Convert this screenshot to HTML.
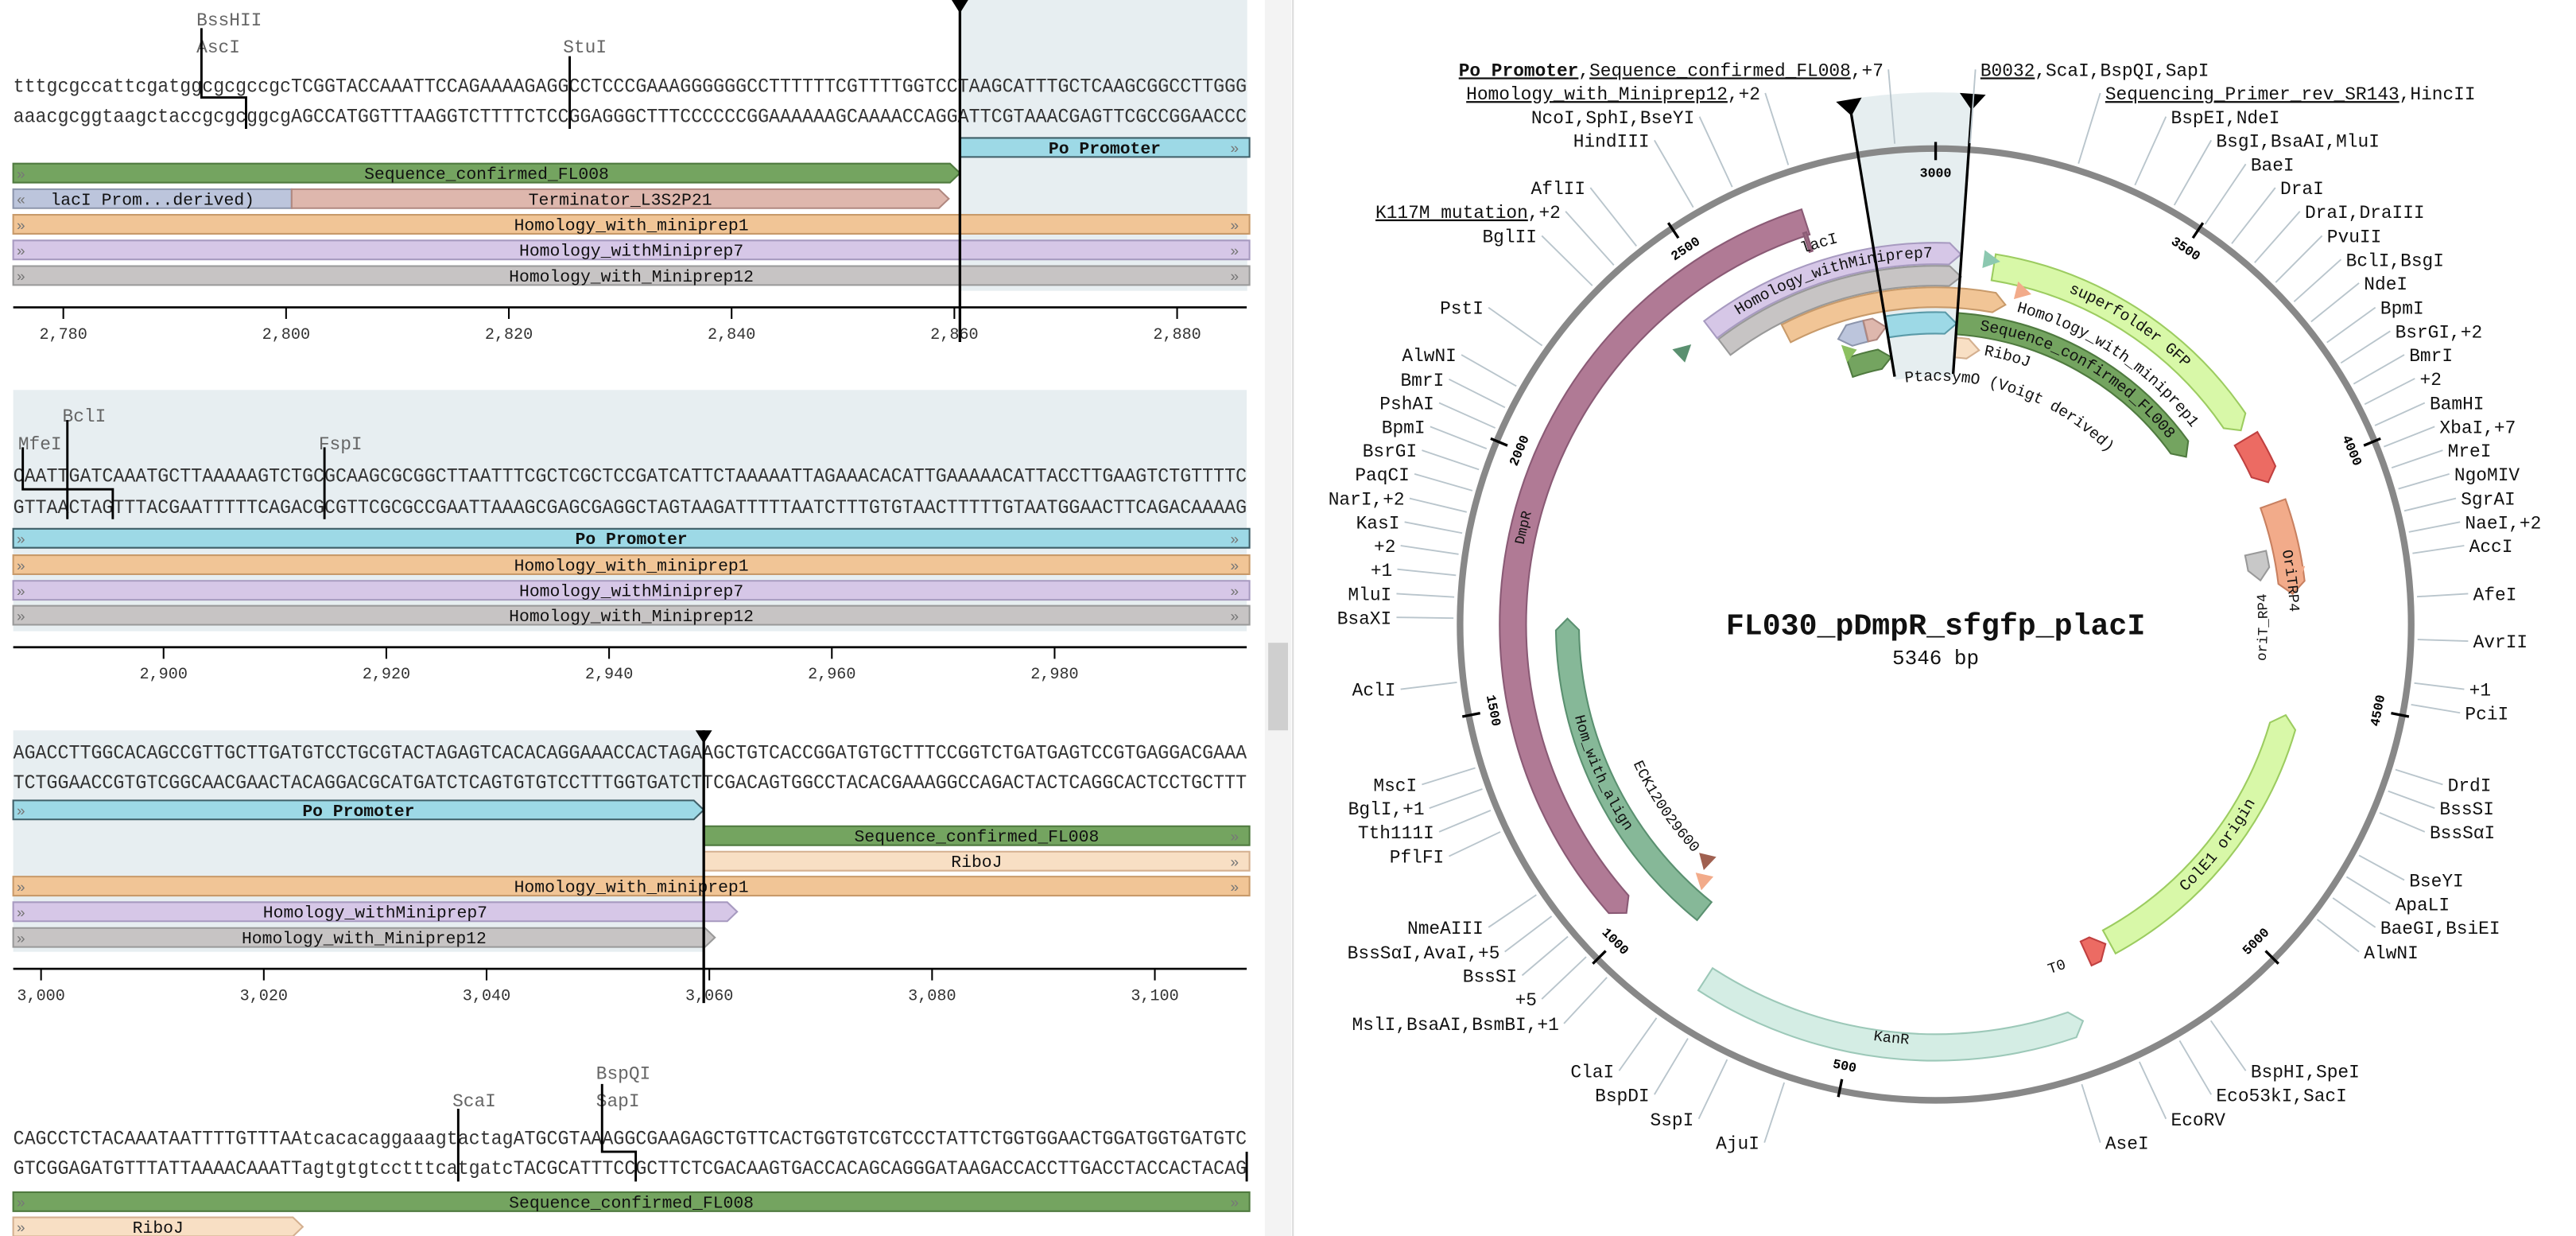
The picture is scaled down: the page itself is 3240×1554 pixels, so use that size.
<!DOCTYPE html>
<html><head><meta charset="utf-8"><style>
html,body{margin:0;padding:0;background:#fff;}
svg{display:block;}
text{font-family:"Liberation Mono","DejaVu Sans Mono",monospace;}
</style></head><body>
<svg id="root" xmlns="http://www.w3.org/2000/svg" width="3240" height="1554" viewBox="0 0 1560 748" preserveAspectRatio="none">
<rect x="0" y="0" width="1560" height="748" fill="#fff"/>
<g id="linear">
  <rect x="581.3" y="0" width="174" height="176" fill="#e7eef1"/>
  <rect x="8" y="236" width="747" height="146" fill="#e7eef1"/>
  <rect x="8" y="442" width="418" height="134" fill="#e7eef1"/>
  <g fill="#333" font-size="12">
    <text x="8" y="55.5" textLength="747" lengthAdjust="spacingAndGlyphs">tttgcgccattcgatggcgcgccgcTCGGTACCAAATTCCAGAAAAGAGGCCTCCCGAAAGGGGGGCCTTTTTTCGTTTTGGTCCTAAGCATTTGCTCAAGCGGCCTTGGG</text>
    <text x="8" y="74" textLength="747" lengthAdjust="spacingAndGlyphs">aaacgcggtaagctaccgcgcggcgAGCCATGGTTTAAGGTCTTTTCTCCGGAGGGCTTTCCCCCCGGAAAAAAGCAAAACCAGGATTCGTAAACGAGTTCGCCGGAACCC</text>
    <text x="8" y="291.5" textLength="747" lengthAdjust="spacingAndGlyphs">CAATTGATCAAATGCTTAAAAAGTCTGCGCAAGCGCGGCTTAATTTCGCTCGCTCCGATCATTCTAAAAATTAGAAACACATTGAAAAACATTACCTTGAAGTCTGTTTTC</text>
    <text x="8" y="310.5" textLength="747" lengthAdjust="spacingAndGlyphs">GTTAACTAGTTTACGAATTTTTCAGACGCGTTCGCGCCGAATTAAAGCGAGCGAGGCTAGTAAGATTTTTAATCTTTGTGTAACTTTTTGTAATGGAACTTCAGACAAAAG</text>
    <text x="8" y="459" textLength="747" lengthAdjust="spacingAndGlyphs">AGACCTTGGCACAGCCGTTGCTTGATGTCCTGCGTACTAGAGTCACACAGGAAACCACTAGAAGCTGTCACCGGATGTGCTTTCCGGTCTGATGAGTCCGTGAGGACGAAA</text>
    <text x="8" y="477" textLength="747" lengthAdjust="spacingAndGlyphs">TCTGGAACCGTGTCGGCAACGAACTACAGGACGCATGATCTCAGTGTGTCCTTTGGTGATCTTCGACAGTGGCCTACACGAAAGGCCAGACTACTCAGGCACTCCTGCTTT</text>
    <text x="8" y="692.5" textLength="747" lengthAdjust="spacingAndGlyphs">CAGCCTCTACAAATAATTTTGTTTAAtcacacaggaaagtactagATGCGTAAAGGCGAAGAGCTGTTCACTGGTGTCGTCCCTATTCTGGTGGAACTGGATGGTGATGTC</text>
    <text x="8" y="710.5" textLength="747" lengthAdjust="spacingAndGlyphs">GTCGGAGATGTTTATTAAAACAAATTagtgtgtcctttcatgatcTACGCATTTCCGCTTCTCGACAAGTGACCACAGCAGGGATAAGACCACCTTGACCTACCACTACAG</text>
  </g>
  <g fill="#666" font-size="11">
    <text x="119" y="15.5">BssHII</text>
    <text x="119" y="31.8">AscI</text>
    <text x="341" y="31.8">StuI</text>
    <text x="37.8" y="255">BclI</text>
    <text x="11" y="272">MfeI</text>
    <text x="193" y="272">FspI</text>
    <text x="274" y="669.5">ScaI</text>
    <text x="361" y="653">BspQI</text>
    <text x="361" y="669.5">SapI</text>
  </g>
  <g fill="none" stroke="#000" stroke-width="1.4">
    <polyline points="122,17 122,59 149,59 149,78"/>
    <polyline points="345,34 345,78"/>
    <polyline points="13.8,270.7 13.8,296.1 68.3,296.1 68.3,314.2"/>
    <polyline points="40.8,254.2 40.8,314.2"/>
    <polyline points="196.5,270.7 196.5,314.2"/>
    <polyline points="277.5,671 277.5,715"/>
    <polyline points="364.6,656 364.6,697 385,697 385,715"/>
    <polyline points="755,697 755,715"/>
  </g>
  <g id="linfeat"></g>
  <g id="linaxes"></g>
</g>
<rect x="766" y="0" width="16" height="748" fill="#f3f3f3"/>
<rect x="768" y="389" width="12" height="53" fill="#cfcfcf"/>
<line x1="783" y1="0" x2="783" y2="748" stroke="#dcdcdc" stroke-width="1"/>
<g id="circ"></g>
</svg>
<script>
// ---------- linear view data ----------
const rowStarts = [2775.5, 2886.5, 2997.5, 3108.5];
const rowTicks = [[2780,2800,2820,2840,2860,2880],[2900,2920,2940,2960,2980],[3000,3020,3040,3060,3080,3100],[]];
const linNames = ['Po Promoter','Sequence_confirmed_FL008','Sequence_confirmed_FL008','lacI Prom...derived)','Terminator_L3S2P21','Homology_with_miniprep1','Homology_withMiniprep7','Homology_with_Miniprep12','RiboJ'];
const linStart = [2861, 2600, 3060, 2600, 2801, 2600, 2600, 2600, 3060];
const linEnd   = [3059, 2860, 3400, 2800, 2859, 3400, 3062, 3060, 3134];
const linDir   = [1, 1, 1, -1, 1, 1, 1, 1, 1];
const selStarts = [2860.5, 3059.5];
// layout (lane y per row, -1 = hidden)
const laneY = [
  [83.5, 99, -1, 114.5, 114.5, 130, 145.5, 161, -1],
  [320, -1, -1, -1, -1, 336, 351.5, 366.6, -1],
  [484.4, -1, 500, -1, -1, 530.5, 546, 561.6, 515.4],
  [-1, -1, 721.5, -1, -1, -1, -1, -1, 736.7]
];
const axisY = [186, 391.7, 586.3, -1];
const fillOf = {'Po Promoter':'#9dd9e6','Sequence_confirmed_FL008':'#74a460','lacI Prom...derived)':'#bcc5dc','Terminator_L3S2P21':'#deb7ad','Homology_with_miniprep1':'#f1c596','Homology_withMiniprep7':'#d6c7e7','Homology_with_Miniprep12':'#c7c4c4','RiboJ':'#f8dfc4'};
const strokeOf = {'Po Promoter':'#3f5f68','Sequence_confirmed_FL008':'#4f7a3f','lacI Prom...derived)':'#8c95ac','Terminator_L3S2P21':'#b08880','Homology_with_miniprep1':'#c89a6a','Homology_withMiniprep7':'#a79ac0','Homology_with_Miniprep12':'#999','RiboJ':'#d4b090'};

const NS='http://www.w3.org/2000/svg';
function mk(parent, tag, attrs){const e=document.createElementNS(NS,tag);for(const k in attrs)e.setAttribute(k,attrs[k]);parent.appendChild(e);return e;}
const BPW=6.745;
function bpX(r,p){return 8+(p-rowStarts[r])*BPW;}
const LF=document.getElementById('linfeat');
const LA=document.getElementById('linaxes');
const BH=11.5;
for(let r=0;r<4;r++){
  const rs=rowStarts[r], re=rs+111;
  for(let i=0;i<linNames.length;i++){
    const y=laneY[r][i]; if(y<0) continue;
    const s0=linStart[i]-0.5, e0=linEnd[i]+0.5;
    if(e0<=rs||s0>=re) continue;
    const s=Math.max(s0,rs), e=Math.min(e0,re);
    const x1=bpX(r,s), x2=bpX(r,e), ym=y+BH/2;
    const tipE = linDir[i]>0 && e0<=re, tipS = linDir[i]<0 && s0>=rs;
    let d;
    if(tipE){d=`M${x1},${y}L${x2-6},${y}L${x2},${ym}L${x2-6},${y+BH}L${x1},${y+BH}Z`;}
    else if(tipS){d=`M${x1+6},${y}L${x2},${y}L${x2},${y+BH}L${x1+6},${y+BH}L${x1},${ym}Z`;}
    else d=`M${x1},${y}L${x2},${y}L${x2},${y+BH}L${x1},${y+BH}Z`;
    const p=mk(LF,'path',{d:d,fill:fillOf[linNames[i]],stroke:strokeOf[linNames[i]],'stroke-width':1});
    
    
    const ch = linDir[i]>0?'»':'«';
    if(s0<rs){const c=mk(LF,'text',{x:10,y:ym+3.5,'font-size':9,fill:'#777'});c.textContent=ch;
      
      }
    if(e0>re){const c=mk(LF,'text',{x:745,y:ym+3.5,'font-size':9,fill:'#777'});c.textContent=ch;
      
      }
    const t=mk(LF,'text',{x:(x1+x2)/2,y:ym+3.6,'font-size':10.3,'text-anchor':'middle',fill:'#111'});
    if(linNames[i]==='Po Promoter') t.setAttribute('font-weight','bold');
    t.textContent=linNames[i];
    
    
  }
  if(axisY[r]>0){
    const ay=axisY[r];
    const al=mk(LA,'line',{x1:8,y1:ay,x2:755,y2:ay,stroke:'#000','stroke-width':1.3});
    
    
    rowTicks[r].forEach(v=>{
      const x=bpX(r,v);
      const tl=mk(LA,'line',{x1:x,y1:ay,x2:x,y2:ay+7,stroke:'#000','stroke-width':1});
      
      
      const tt=mk(LA,'text',{x:x,y:ay+19,'font-size':9.7,'text-anchor':'middle',fill:'#333'});
      tt.textContent=v.toLocaleString('en-US');
      
      
    });
  }
}
// selection markers
[[0,0,207],[2,442,607]].forEach((m,k)=>{
  const r=m[0], x=bpX(r,selStarts[k]);
  const ln=mk(LA,'line',{x1:x,y1:m[1],x2:x,y2:m[2],stroke:'#000','stroke-width':1.6});
  
  
  const tr=mk(LA,'path',{d:`M${x-5},${m[1]}L${x+5},${m[1]}L${x},${m[1]+8}Z`,fill:'#000'});
  
  
});

// ---------- circular map data ----------
const TOTAL=5346, ORIGIN=3000;
const tickVals=[500,1000,1500,2000,2500,3000,3500,4000,4500,5000];
const cNames = ['DmpR','lacI','Hom_with_align','KanR','T0','ColE1 origin','OriTRP4','oriT_RP4','T1','superfolder GFP','Homology_withMiniprep7','Homology_with_Miniprep12','Homology_with_miniprep1','Po Promoter','Sequence_confirmed_FL008','lacI Prom','Terminator_L3S2P21','Sequence_confirmed_FL008 part','RiboJ'];
const cStart = [1025,2722,905,24,5257,4552,4044,4150,3878,3137,2445,2446,2596,2861,3060,2720,2801,2725,3060];
const cEnd   = [2734,2729,1677,817,5308,5247,4264,4222,3993,3855,3058,3062,3183,3059,3835,2800,2859,2860,3134];
const cDir   = [-1,0,1,-1,-1,-1,1,1,1,1,1,1,1,1,1,-1,1,1,1];
// lane radii (layout)
const cR1 = [248,238,216,248,211,211,209,192,211,211,218,205,192,176,176,176,176,158,162];
const cR2 = [264,250,230,264,227,227,225,205,227,227,231,217,204,189,189,189,189,170,174];
const cFill = ['#b07a95','#9a6a80','#86b898','#d4ede4','#ec6b63','#d8f8a8','#f2ab8a','#c8c8c8','#ec6b63','#d8f8a8','#d6c7e7','#c7c4c4','#f1c596','#9dd9e6','#74a460','#bcc5dc','#deb7ad','#74a460','#f8dfc4'];
const cStroke= ['#8a5a75','#8a5a75','#5a9070','#9cc8b8','#c04040','#9ccc60','#c88060','#999','#c04040','#9ccc60','#a79ac0','#999','#c89a6a','#5a9aa8','#4f7a3f','#8c95ac','#b08880','#4f7a3f','#d4b090'];
const tinyPos = [3130,3220,4222,961,2369,2742,990];
const tinyR   = [223,208,221,209,225,173,199];
const tinyCol = ['#8cc8b0','#f2ab8a','#f2ab8a','#f2ab8a','#5a9070','#8cc060','#a06050'];

const cx=1172.2, cy=377.9, R=288;
const C=document.getElementById('circ');
function ang(p){return (p-ORIGIN)/TOTAL*360;}
function pt(r,a){const t=a*Math.PI/180;return [(cx+r*Math.sin(t)).toFixed(2),(cy-r*Math.cos(t)).toFixed(2)];}
function P(r,a){return pt(r,a).join(',');}
{
  const a1=ang(selStarts[0]), a2=ang(selStarts[1]);
  const w=mk(C,'path',{d:`M${P(150,a1)}L${P(322,a1)}A322,322 0 0 1 ${P(322,a2)}L${P(150,a2)}A150,150 0 0 0 ${P(150,a1)}Z`,fill:'#e6eef0'});
  
  
}
const ring=mk(C,'circle',{cx:cx,cy:cy,r:R,fill:'none',stroke:'#888','stroke-width':4});


tickVals.forEach(v=>{
  const a=ang(v);
  const l=mk(C,'line',{x1:pt(281,a)[0],y1:pt(281,a)[1],x2:pt(292,a)[0],y2:pt(292,a)[1],stroke:'#000','stroke-width':1.6});
  
  
  const q=pt(273,a); let rot=a; if(Math.abs(a)>90) rot=a>0?a-180:a+180;
  const t=mk(C,'text',{x:q[0],y:q[1],'font-size':8,'font-weight':'bold','text-anchor':'middle','dominant-baseline':'central',transform:`rotate(${rot.toFixed(1)} ${q[0]} ${q[1]})`});
  t.textContent=String(v);
  
  
});
function band(p1,p2,r1,r2,dir){
  let a1=ang(p1), a2=ang(p2); if(a2<a1)a2+=360;
  const rm=(r1+r2)/2; let tip=7/rm*180/Math.PI; tip=Math.min(tip,(a2-a1)*0.6);
  const L=(x)=>x>180?1:0;
  if(dir>0){const b=a2-tip;return `M${P(r2,a1)}A${r2},${r2} 0 ${L(b-a1)} 1 ${P(r2,b)}L${P(rm,a2)}L${P(r1,b)}A${r1},${r1} 0 ${L(b-a1)} 0 ${P(r1,a1)}Z`;}
  if(dir<0){const b=a1+tip;return `M${P(rm,a1)}L${P(r2,b)}A${r2},${r2} 0 ${L(a2-b)} 1 ${P(r2,a2)}L${P(r1,a2)}A${r1},${r1} 0 ${L(a2-b)} 0 ${P(r1,b)}Z`;}
  return `M${P(r2,a1)}A${r2},${r2} 0 ${L(a2-a1)} 1 ${P(r2,a2)}L${P(r1,a2)}A${r1},${r1} 0 ${L(a2-a1)} 0 ${P(r1,a1)}Z`;
}
for(let i=0;i<cNames.length;i++){
  const f=mk(C,'path',{d:band(cStart[i],cEnd[i],cR1[i],cR2[i],cDir[i]),fill:cFill[i],stroke:cStroke[i],'stroke-width':1});
  
  
}
for(let i=0;i<tinyPos.length;i++){
  const a=ang(tinyPos[i]), r=tinyR[i];
  const tr=mk(C,'path',{d:`M${P(r-5,a-1.2)}L${P(r+5,a-1.2)}L${P(r,a+1.2)}Z`,fill:tinyCol[i],stroke:tinyCol[i],'stroke-width':0.6});
  
  
}
selStarts.forEach(p=>{
  const a=ang(p);
  const l=mk(C,'line',{x1:pt(152,a)[0],y1:pt(152,a)[1],x2:pt(318,a)[0],y2:pt(318,a)[1],stroke:'#000','stroke-width':1.6});
  
  
  const t=mk(C,'path',{d:`M${P(322,a-1.4)}L${P(322,a+1.4)}L${P(312,a)}Z`,fill:'#000'});
  
  
});
const arcLabText=['DmpR','KanR','Hom_with_align','ECK120029600','superfolder GFP','Homology_with_miniprep1','Sequence_confirmed_FL008','RiboJ','PtacsymO (Voigt derived)','lacI','Homology_withMiniprep7','OriTRP4','oriT_RP4','ColE1 origin','T0'];
const arcLabAng=[-76.8,-173.9,-114,-124,33,33.5,30,15,19,-17,-16.5,83,90.5,128,160.5];
const arcLabR=[256,252,223,199,219,198,182.5,168,150,241,224.5,217,199,219,220];
const arcLabCW=[1,0,0,0,1,1,1,1,1,1,1,1,0,0,0];
const arcLabSize=[8.5,9,9,9,9.5,9.5,9.5,9.5,9.5,9.5,9.5,9,8.5,9.5,9];
const defs=mk(C,'defs',{});
for(let i=0;i<arcLabText.length;i++){
  const r=arcLabR[i], m=arcLabAng[i];
  const span=Math.min(300,(arcLabText[i].length*arcLabSize[i]*0.62)/r*180/Math.PI*1.4+10);
  const id='alp'+i;
  let d;
  if(arcLabCW[i]) d=`M${P(r,m-span/2)}A${r},${r} 0 ${span>180?1:0} 1 ${P(r,m+span/2)}`;
  else d=`M${P(r,m+span/2)}A${r},${r} 0 ${span>180?1:0} 0 ${P(r,m-span/2)}`;
  mk(defs,'path',{id:id,d:d});
  const t=mk(C,'text',{'font-size':arcLabSize[i],'dominant-baseline':'central',fill:'#111'});
  
  
  const tp=mk(t,'textPath',{href:'#'+id,startOffset:'50%','text-anchor':'middle'});
  tp.textContent=arcLabText[i];
}
{
  const t=mk(C,'text',{x:cx,y:cy+6,'font-size':18.4,'font-weight':'bold','text-anchor':'middle',fill:'#111'});
  t.textContent='FL030_pDmpR_sfgfp_placI';
  
  
  const s=mk(C,'text',{x:cx,y:cy+24,'font-size':12.5,'text-anchor':'middle',fill:'#111'});
  s.textContent='5346 bp';
  
  
}
const outLabels=[
 ['L',725,88,[['Po Promoter','b'],[',',''],['Sequence_confirmed_FL008','u'],[',+7','']]],
 ['L',575,118,[['Homology_with_Miniprep12','u'],[',+2','']]],
 ['L',495,148,[['NcoI,SphI,BseYI','']]],
 ['L',440,178,[['HindIII','']]],
 ['L',362,238,[['AflII','']]],
 ['L',332,268,[['K117M mutation','u'],[',+2','']]],
 ['L',303,299,[['BglII','']]],
 ['L',238,390,[['PstI','']]],
 ['L',205,450,[['AlwNI','']]],
 ['L',190,481,[['BmrI','']]],
 ['L',178,511,[['PshAI','']]],
 ['L',167,541,[['BpmI','']]],
 ['L',157,571,[['BsrGI','']]],
 ['L',148,601,[['PaqCI','']]],
 ['L',142,632,[['NarI,+2','']]],
 ['L',136,662,[['KasI','']]],
 ['L',131,692,[['+2','']]],
 ['L',127,722,[['+1','']]],
 ['L',126,753,[['MluI','']]],
 ['L',126,783,[['BsaXI','']]],
 ['L',131,874,[['AclI','']]],
 ['L',157,995,[['MscI','']]],
 ['L',166,1025,[['BglI,+1','']]],
 ['L',178,1055,[['Tth111I','']]],
 ['L',190,1086,[['PflFI','']]],
 ['L',238,1176,[['NmeAIII','']]],
 ['L',258,1207,[['BssSαI,AvaI,+5','']]],
 ['L',279,1237,[['BssSI','']]],
 ['L',303,1267,[['+5','']]],
 ['L',330,1298,[['MslI,BsaAI,BsmBI,+1','']]],
 ['L',397,1358,[['ClaI','']]],
 ['L',440,1388,[['BspDI','']]],
 ['L',494,1419,[['SspI','']]],
 ['L',574,1449,[['AjuI','']]],
 ['R',843,88,[['B0032','u'],[',ScaI,BspQI,SapI','']]],
 ['R',995,118,[['Sequencing_Primer_rev_SR143','u'],[',HincII','']]],
 ['R',1075,148,[['BspEI,NdeI','']]],
 ['R',1130,178,[['BsgI,BsaAI,MluI','']]],
 ['R',1172,208,[['BaeI','']]],
 ['R',1208,238,[['DraI','']]],
 ['R',1238,268,[['DraI,DraIII','']]],
 ['R',1265,299,[['PvuII','']]],
 ['R',1288,329,[['BclI,BsgI','']]],
 ['R',1310,359,[['NdeI','']]],
 ['R',1330,390,[['BpmI','']]],
 ['R',1348,420,[['BsrGI,+2','']]],
 ['R',1365,450,[['BmrI','']]],
 ['R',1378,480,[['+2','']]],
 ['R',1390,511,[['BamHI','']]],
 ['R',1402,541,[['XbaI,+7','']]],
 ['R',1412,571,[['MreI','']]],
 ['R',1420,601,[['NgoMIV','']]],
 ['R',1428,632,[['SgrAI','']]],
 ['R',1433,662,[['NaeI,+2','']]],
 ['R',1438,692,[['AccI','']]],
 ['R',1443,753,[['AfeI','']]],
 ['R',1443,813,[['AvrII','']]],
 ['R',1438,874,[['+1','']]],
 ['R',1433,904,[['PciI','']]],
 ['R',1412,995,[['DrdI','']]],
 ['R',1402,1025,[['BssSI','']]],
 ['R',1390,1055,[['BssSαI','']]],
 ['R',1365,1116,[['BseYI','']]],
 ['R',1348,1146,[['ApaLI','']]],
 ['R',1330,1176,[['BaeGI,BsiEI','']]],
 ['R',1310,1207,[['AlwNI','']]],
 ['R',1172,1358,[['BspHI,SpeI','']]],
 ['R',1130,1388,[['Eco53kI,SacI','']]],
 ['R',1075,1419,[['EcoRV','']]],
 ['R',995,1449,[['AseI','']]]
];
const leaders=mk(C,'g',{stroke:'#b9c5cc','stroke-width':0.9,fill:'none'});


outLabels.forEach(L=>{
  const x=780+L[1]*0.4974, y=L[2]*0.4772;
  const t=mk(C,'text',{x:x.toFixed(1),y:(y+3.9).toFixed(1),'font-size':11,'text-anchor':L[0]==='L'?'end':'start',fill:'#111'});
  
  
  L[3].forEach(sg=>{
    const s=mk(t,'tspan',{});
    if(sg[1]==='u'||sg[1]==='b') s.setAttribute('text-decoration','underline');
    if(sg[1]==='b') s.setAttribute('font-weight','bold');
    s.textContent=sg[0];
  });
  const sx = L[0]==='L'? x+3 : x-3;
  const a=Math.atan2(sx-cx, -(y-cy))*180/Math.PI;
  const e=pt(292,a);
  const ln=mk(leaders,'line',{x1:sx.toFixed(1),y1:y.toFixed(1),x2:e[0],y2:e[1]});
  
  
});
</script>
</body></html>
